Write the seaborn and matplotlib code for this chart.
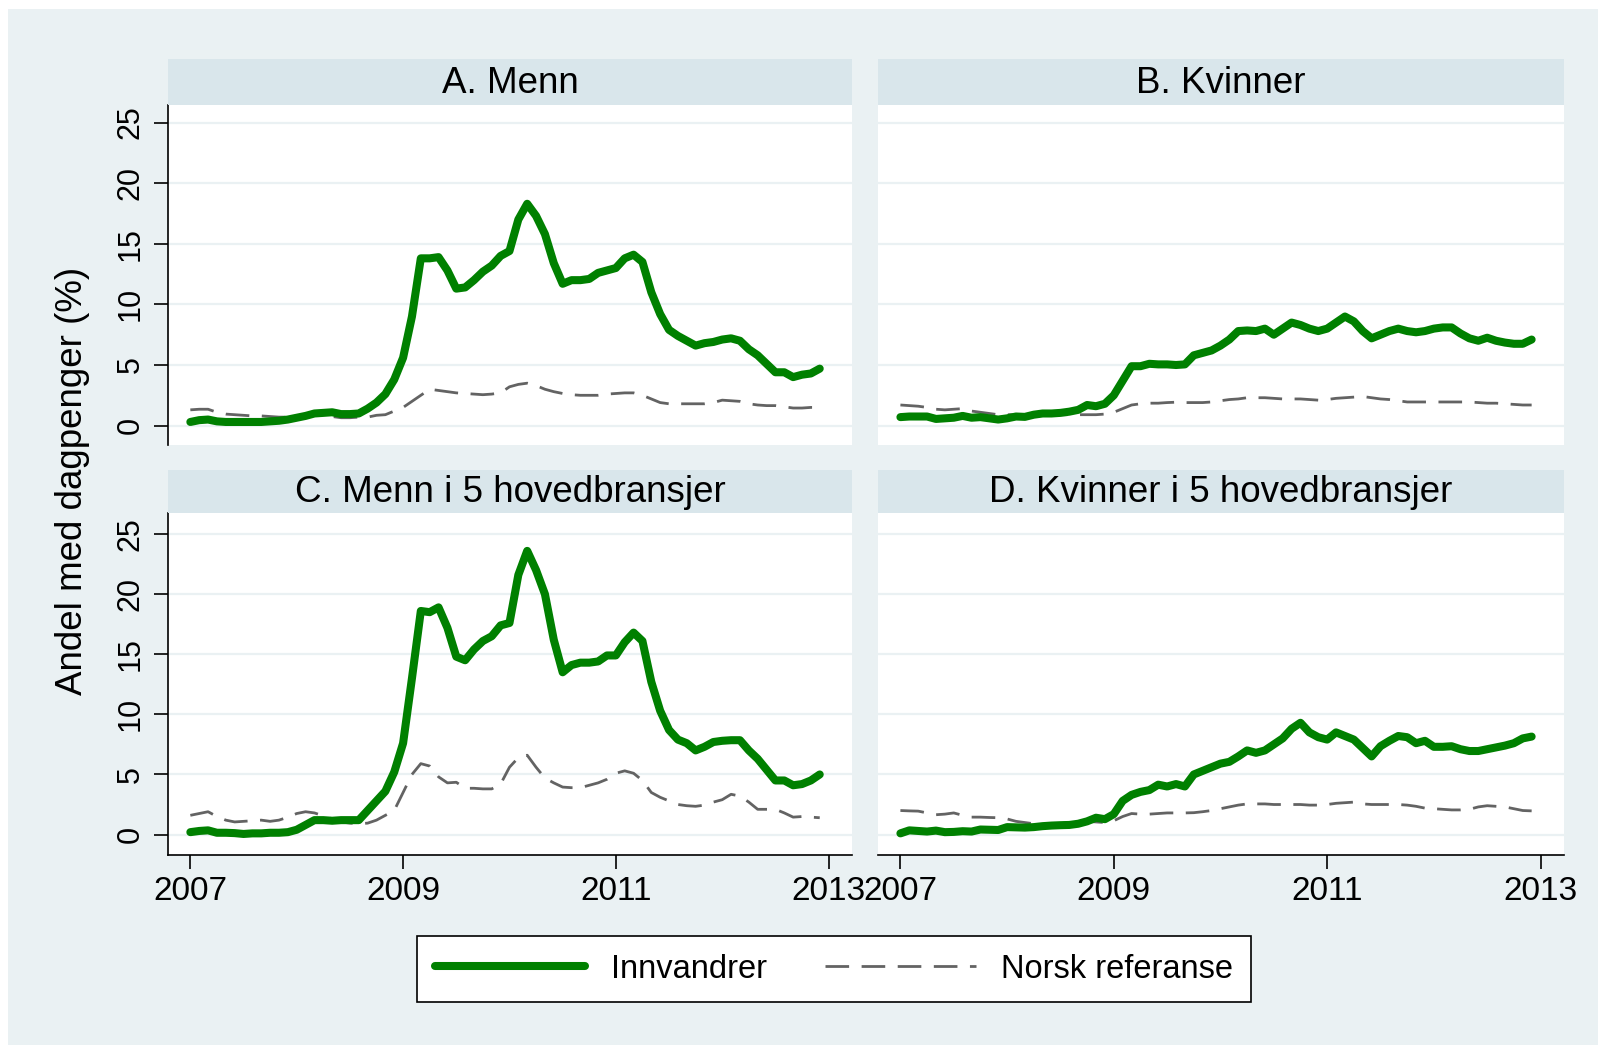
import numpy as np
import pandas as pd
import matplotlib
matplotlib.use("Agg")
import matplotlib.pyplot as plt
import seaborn as sns
from matplotlib.lines import Line2D
from matplotlib.patches import Rectangle

# monthly values, Jan 2007 - Dec 2012
years = 2007 + np.arange(72) / 12.0

menn_innv = [0.3, 0.45, 0.5, 0.35, 0.3, 0.3, 0.3, 0.3, 0.3, 0.35, 0.4, 0.5,
             0.65, 0.8, 1.0, 1.05, 1.1, 0.95, 0.95, 1.0, 1.4, 1.9, 2.6, 3.8,
             5.6, 9.0, 13.8, 13.8, 13.9, 12.8, 11.3, 11.4, 12.0, 12.7, 13.2, 14.0,
             14.4, 17.0, 18.3, 17.3, 15.8, 13.4, 11.7, 12.0, 12.0, 12.1, 12.6, 12.8,
             13.0, 13.8, 14.1, 13.5, 11.0, 9.2, 7.9, 7.4, 7.0, 6.6, 6.8, 6.9,
             7.1, 7.2, 7.0, 6.3, 5.8, 5.1, 4.4, 4.4, 4.0, 4.2, 4.3, 4.7]
menn_norsk = [1.3, 1.35, 1.35, 1.1, 0.95, 0.9, 0.85, 0.8, 0.8, 0.75, 0.7, 0.7,
              0.75, 0.85, 0.9, 0.8, 0.75, 0.65, 0.65, 0.7, 0.7, 0.85, 0.9, 1.2,
              1.5, 2.0, 2.5, 3.0, 2.9, 2.8, 2.7, 2.65, 2.6, 2.55, 2.6, 2.7,
              3.2, 3.4, 3.5, 3.3, 3.0, 2.8, 2.65, 2.55, 2.5, 2.5, 2.5, 2.6,
              2.65, 2.7, 2.7, 2.5, 2.2, 1.9, 1.8, 1.8, 1.8, 1.8, 1.8, 1.9,
              2.1, 2.05, 2.0, 1.8, 1.7, 1.65, 1.65, 1.55, 1.45, 1.45, 1.5, 1.5]

kvinner_innv = [0.7, 0.75, 0.75, 0.75, 0.55, 0.6, 0.65, 0.8, 0.65, 0.7, 0.6, 0.5,
                0.6, 0.75, 0.72, 0.9, 1.0, 1.0, 1.05, 1.15, 1.3, 1.7, 1.6, 1.8,
                2.5, 3.7, 4.9, 4.9, 5.1, 5.05, 5.05, 5.0, 5.05, 5.8, 6.0, 6.2,
                6.6, 7.1, 7.8, 7.85, 7.8, 8.0, 7.5, 8.0, 8.5, 8.3, 8.0, 7.8,
                8.0, 8.5, 9.0, 8.6, 7.8, 7.2, 7.5, 7.8, 8.0, 7.8, 7.7, 7.8,
                8.0, 8.1, 8.1, 7.6, 7.2, 7.0, 7.25, 7.0, 6.85, 6.75, 6.75, 7.1]
kvinner_norsk = [1.7, 1.65, 1.6, 1.5, 1.35, 1.3, 1.35, 1.4, 1.2, 1.1, 1.0, 0.9,
                 0.9, 0.9, 0.9, 0.9, 0.9, 0.9, 0.9, 0.9, 0.9, 0.9, 0.9, 0.95,
                 1.1, 1.4, 1.7, 1.8, 1.85, 1.85, 1.9, 1.93, 1.9, 1.9, 1.9, 1.95,
                 2.05, 2.15, 2.2, 2.3, 2.3, 2.3, 2.25, 2.2, 2.2, 2.2, 2.15, 2.1,
                 2.15, 2.25, 2.3, 2.35, 2.4, 2.3, 2.2, 2.15, 2.05, 1.95, 1.95, 1.95,
                 1.95, 1.95, 1.95, 1.95, 1.95, 1.9, 1.85, 1.85, 1.8, 1.75, 1.7, 1.7]

menn5_innv = [0.2, 0.3, 0.35, 0.15, 0.15, 0.12, 0.05, 0.1, 0.1, 0.15, 0.15, 0.2,
              0.4, 0.8, 1.2, 1.2, 1.15, 1.2, 1.2, 1.2, 2.0, 2.8, 3.6, 5.2,
              7.6, 13.0, 18.6, 18.5, 18.9, 17.2, 14.8, 14.5, 15.4, 16.1, 16.5, 17.4,
              17.6, 21.6, 23.6, 22.0, 20.0, 16.2, 13.5, 14.1, 14.3, 14.3, 14.4, 14.9,
              14.9, 16.0, 16.8, 16.1, 12.7, 10.3, 8.7, 7.9, 7.6, 7.0, 7.3, 7.7,
              7.8, 7.85, 7.85, 7.0, 6.3, 5.4, 4.5, 4.5, 4.1, 4.2, 4.5, 5.0]
menn5_norsk = [1.6, 1.75, 1.9, 1.5, 1.2, 1.05, 1.1, 1.15, 1.2, 1.1, 1.2, 1.45,
               1.75, 1.9, 1.8, 1.55, 1.3, 1.05, 0.95, 0.9, 0.95, 1.2, 1.6, 2.0,
               3.5, 5.0, 5.9, 5.7, 4.8, 4.3, 4.35, 3.85, 3.85, 3.8, 3.8, 4.2,
               5.6, 6.4, 6.6, 5.6, 4.7, 4.3, 3.95, 3.9, 3.9, 4.1, 4.3, 4.6,
               5.1, 5.3, 5.1, 4.5, 3.5, 3.1, 2.8, 2.5, 2.4, 2.35, 2.45, 2.7,
               2.9, 3.35, 3.2, 2.7, 2.1, 2.1, 2.1, 1.8, 1.45, 1.5, 1.45, 1.4]

kvinner5_innv = [0.1, 0.35, 0.3, 0.25, 0.33, 0.2, 0.22, 0.28, 0.25, 0.42, 0.4, 0.38,
                 0.62, 0.6, 0.58, 0.62, 0.7, 0.75, 0.78, 0.8, 0.9, 1.1, 1.4, 1.28,
                 1.7, 2.8, 3.3, 3.55, 3.7, 4.15, 4.0, 4.2, 4.0, 5.0, 5.3, 5.6,
                 5.9, 6.05, 6.5, 7.0, 6.8, 7.0, 7.5, 8.0, 8.8, 9.3, 8.5, 8.1,
                 7.9, 8.5, 8.2, 7.9, 7.2, 6.5, 7.35, 7.8, 8.2, 8.1, 7.6, 7.8,
                 7.3, 7.3, 7.35, 7.1, 6.95, 6.95, 7.1, 7.25, 7.4, 7.6, 8.0, 8.15]
kvinner5_norsk = [2.0, 1.97, 1.95, 1.8, 1.65, 1.7, 1.8, 1.6, 1.45, 1.45, 1.42, 1.4,
                  1.3, 1.1, 1.0, 0.9, 0.85, 0.85, 0.9, 1.05, 1.1, 1.1, 1.05, 1.0,
                  1.15, 1.5, 1.75, 1.7, 1.7, 1.75, 1.8, 1.8, 1.8, 1.82, 1.9, 2.0,
                  2.15, 2.3, 2.45, 2.55, 2.55, 2.55, 2.5, 2.5, 2.5, 2.5, 2.45, 2.45,
                  2.5, 2.6, 2.65, 2.7, 2.55, 2.5, 2.5, 2.5, 2.5, 2.45, 2.35, 2.2,
                  2.15, 2.1, 2.05, 2.05, 2.1, 2.3, 2.4, 2.35, 2.3, 2.15, 2.0, 1.97]

titles = ["A. Menn", "B. Kvinner", "C. Menn i 5 hovedbransjer", "D. Kvinner i 5 hovedbransjer"]
series = [(menn_innv, menn_norsk), (kvinner_innv, kvinner_norsk),
          (menn5_innv, menn5_norsk), (kvinner5_innv, kvinner5_norsk)]
yticks = [0, 5, 10, 15, 20, 25]
xticks = [2007, 2009, 2011, 2013]

BG = "#EAF1F3"
HEAD = "#D9E6EB"
GREEN = "#008000"
GRAY = "#636363"
DASH = (0, (8.5, 4.5))

sns.set_theme(style="white")
plt.rcParams["font.family"] = ["Liberation Sans", "DejaVu Sans"]
plt.rcParams.update({"text.color": "black", "xtick.color": "black",
                     "ytick.color": "black", "axes.labelcolor": "black"})

fig = plt.figure(figsize=(15.98, 10.45), dpi=100)
fig.patch.set_facecolor("white")
fig.patches.append(Rectangle((8 / 1598, 0), 1, 1 - 9 / 1045, transform=fig.transFigure,
                             facecolor=BG, edgecolor="none", zorder=-10))

W, H = 1598.0, 1045.0
# (left, right) in px, (header top, plot top, plot bottom) in px
cols = [(168, 852), (878, 1564)]
rows = [(59, 105, 445), (470, 513, 855)]
ylims = [(-1.6, 26.45), (-1.7, 26.75)]

for k in range(4):
    r, c = divmod(k, 2)
    x0, x1 = cols[c]
    ht, pt, pb = rows[r]
    ax = fig.add_axes([x0 / W, 1 - pb / H, (x1 - x0) / W, (pb - pt) / H])
    hax = fig.add_axes([x0 / W, 1 - pt / H, (x1 - x0) / W, (pt - ht) / H])
    hax.set_facecolor(HEAD)
    hax.set_xticks([])
    hax.set_yticks([])
    for s in hax.spines.values():
        s.set_visible(False)
    hax.text(0.5, 0.47, titles[k], ha="center", va="center", fontsize=26.5,
             transform=hax.transAxes)

    innv, norsk = series[k]
    df = pd.DataFrame({"tid": years, "innv": innv, "norsk": norsk})
    sns.lineplot(data=df, x="tid", y="norsk", ax=ax, color=GRAY, lw=2.0,
                 linestyle=DASH, zorder=3)
    sns.lineplot(data=df, x="tid", y="innv", ax=ax, color=GREEN, lw=5.8,
                 solid_capstyle="round", zorder=4)

    ax.set_facecolor("white")
    ax.set_xlim(2006.79, 2013.22)
    ax.set_ylim(*ylims[r])
    ax.set_xlabel("")
    ax.set_ylabel("")
    ax.set_yticks(yticks)
    for yv in yticks:
        ax.axhline(yv, color=BG, lw=1.6, zorder=1)
    for s in ax.spines.values():
        s.set_visible(False)

    if c == 0:
        ax.spines["left"].set_visible(True)
        ax.spines["left"].set_color("black")
        ax.spines["left"].set_linewidth(1.2)
        ax.tick_params(axis="y", left=True, length=10, width=1.2, color="black",
                       labelsize=22, pad=6, labelrotation=90)
        for lab in ax.get_yticklabels():
            lab.set_va("center")
    else:
        ax.tick_params(axis="y", left=False, labelleft=False)

    if r == 1:
        ax.spines["bottom"].set_visible(True)
        ax.spines["bottom"].set_color("black")
        ax.spines["bottom"].set_linewidth(1.2)
        ax.set_xticks(xticks)
        ax.set_xticklabels([str(x) for x in xticks])
        ax.tick_params(axis="x", bottom=True, length=10, width=1.2, color="black",
                       labelsize=24, pad=5)
    else:
        ax.set_xticks([])

fig.text(73 / W, 1 - 481 / H, "Andel med dagpenger (%)", rotation=90,
         ha="center", va="center", fontsize=26.5)

handles = [Line2D([], [], color=GREEN, lw=5.8),
           Line2D([], [], color=GRAY, lw=2.0, linestyle=DASH)]
leg = fig.legend(handles, ["Innvandrer", "Norsk referanse"], ncol=2,
                 loc="center", bbox_to_anchor=(834 / W, 1 - 969 / H),
                 fontsize=23.5, frameon=True, fancybox=False, edgecolor="black",
                 facecolor="white", framealpha=1, handlelength=4.6,
                 handletextpad=0.78, columnspacing=1.8, borderpad=0.55,
                 borderaxespad=0)
leg.get_frame().set_linewidth(1.2)

fig.savefig("out.png", dpi=100, facecolor=fig.get_facecolor())
